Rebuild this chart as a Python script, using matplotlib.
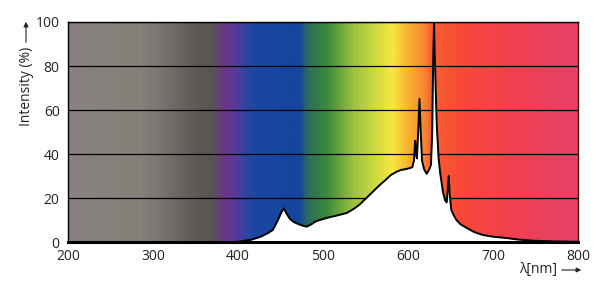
import numpy as np
import matplotlib
matplotlib.use("Agg")
import matplotlib.pyplot as plt
from matplotlib.colors import LinearSegmentedColormap, to_rgb

plt.rcParams['font.family'] = ['Open Sans', 'DejaVu Sans']

# Spectrum (wavelength nm, relative intensity %)
wavelength = [200, 395, 402, 415, 426, 435, 441, 447, 451, 454, 457, 461, 466, 472,
              478, 481, 486, 492, 505, 518, 528, 536, 543, 551, 559, 567, 573, 580,
              587, 592, 596, 602, 605,
              607, 608.5, 609.5, 610.5, 612, 613.5, 615, 616.5, 619, 622, 625, 627,
              628.5, 629.5, 630.6, 631.5, 632.5, 633.3, 634, 636, 638, 641, 643.5,
              645.5, 646.8, 648, 649, 651, 654, 657, 662, 669, 678, 688, 700, 716,
              730, 747, 770, 800]
intensity = [0, 0, 0.2, 1, 2.3, 4, 5.5, 10, 13.5, 15.3, 13, 10.5, 9, 8,
             7.2, 7, 8, 9.5, 11, 12.2, 13.2, 15, 17, 20, 23, 26, 28, 30.5,
             32, 32.8, 33, 33.6, 34,
             37, 46, 40, 38, 50, 65, 50, 37, 33, 31, 33, 35,
             50, 80, 100, 85, 71, 60, 52, 38, 31, 23, 19,
             18, 24, 30, 22, 14.5, 12, 10, 8, 6.4, 4.5, 3.2, 2.4, 1.8,
             1.1, 0.6, 0.3, 0.1]

# Background colour gradient stops
grad_nm = [200, 285, 300, 330, 350, 368, 383, 396, 410, 420, 473, 481, 505, 535,
           559, 582, 602, 622, 628, 665, 724, 800]
grad_col = ['#888380', '#858079', '#7e7977', '#6a6664', '#5e5a58', '#585654',
            '#6d3585', '#5a3a9a', '#2a45a0', '#1a47a0', '#1446a0', '#2a6a60',
            '#3a8a3a', '#9ac040', '#c8d840', '#f8e840', '#f8b030', '#f88030',
            '#f86030', '#f84838', '#f04050', '#e8406a']

x_ticks = [200, 300, 400, 500, 600, 700, 800]
y_ticks = [0, 20, 40, 60, 80, 100]

fig = plt.figure(figsize=(6.0, 2.93), dpi=100)
ax = fig.add_axes([68/600, 1-242/293, 510/600, 220/293])

pos = [(v - 200) / 600 for v in grad_nm]
cmap = LinearSegmentedColormap.from_list('spec', list(zip(pos, [to_rgb(c) for c in grad_col])))
grad = np.linspace(0, 1, 1200).reshape(1, -1)
ax.imshow(grad, cmap=cmap, aspect='auto', extent=[200, 800, 0, 100], zorder=0,
          interpolation='bilinear')

ax.fill_between(wavelength, intensity, 0, color='white', zorder=2, linewidth=0)
ax.plot(wavelength, intensity, color='black', lw=1.4, zorder=4, solid_joinstyle='round')

for yv in y_ticks[1:]:
    ax.axhline(yv, color='black', lw=0.9, zorder=1)

ax.set_xlim(200, 800)
ax.set_ylim(0, 100)
ax.set_xticks(x_ticks)
ax.set_yticks(y_ticks)
ax.tick_params(length=0, labelsize=10, colors='#222222')
ax.tick_params(axis='x', pad=5)
ax.tick_params(axis='y', pad=6)
for s in ['left', 'top', 'right']:
    ax.spines[s].set_linewidth(1.0)
    ax.spines[s].set_color('black')
ax.spines['right'].set_color('#3a1010')
ax.spines['bottom'].set_linewidth(2.2)
ax.spines['bottom'].set_zorder(5)

# Axis labels with arrows
fig.text(26/600, 1-86/293, 'Intensity (%)', rotation=90, ha='center', va='center',
         fontsize=10, color='#222222')
fig.add_artist(matplotlib.patches.FancyArrowPatch(
    (26/600, 1-45/293), (26/600, 1-19/293), transform=fig.transFigure,
    arrowstyle='-|>', mutation_scale=7, lw=0.8, color='#222222'))
fig.text(538/600, 1-270/293, 'λ[nm]', ha='center', va='center', fontsize=10,
         color='#222222')
fig.add_artist(matplotlib.patches.FancyArrowPatch(
    (559/600, 1-270/293), (584/600, 1-270/293), transform=fig.transFigure,
    arrowstyle='-|>', mutation_scale=7, lw=0.8, color='#222222'))

fig.savefig('out.png', dpi=100, facecolor='white')
